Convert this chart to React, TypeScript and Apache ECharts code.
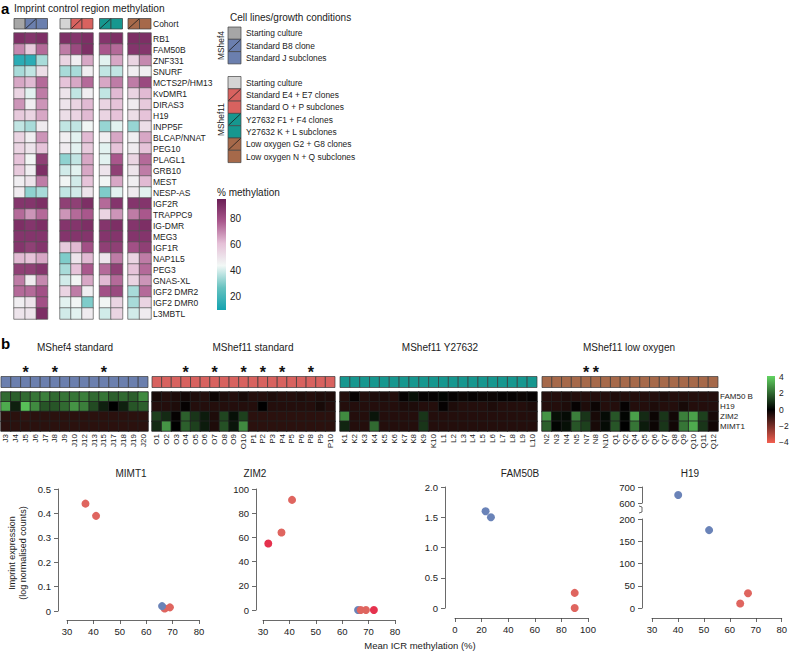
import React, { useEffect, useRef } from 'react';
import * as echarts from 'echarts';

const FONT = '"Liberation Sans", Arial, Helvetica, sans-serif';

// ---------------- Panel a: imprint control region methylation (%) ----------------
const icrRegions = ['RB1', 'FAM50B', 'ZNF331', 'SNURF', 'MCTS2P/HM13', 'KvDMR1', 'DIRAS3', 'H19', 'INPP5F', 'BLCAP/NNAT', 'PEG10', 'PLAGL1', 'GRB10', 'MEST', 'NESP-AS', 'IGF2R', 'TRAPPC9', 'IG-DMR', 'MEG3', 'IGF1R', 'NAP1L5', 'PEG3', 'GNAS-XL', 'IGF2 DMR2', 'IGF2 DMR0', 'L3MBTL'];
const cohortRowLabel = ['Cohort'];
const mshef4Start = [90, 70, 15, 35, 65, 55, 68, 58, 38, 55, 55, 60, 58, 47, 48, 88, 75, 90, 88, 88, 62, 85, 72, 75, 47, 50];
const mshef4B8 = [88, 58, 15, 38, 62, 42, 47, 55, 35, 47, 50, 45, 47, 50, 32, 88, 68, 88, 88, 85, 60, 85, 48, 75, 50, 50];
const mshef4J = [90, 75, 35, 52, 75, 72, 68, 65, 48, 68, 60, 85, 90, 72, 35, 90, 75, 90, 88, 88, 65, 88, 70, 80, 80, 90];
const mshef11Start = [90, 72, 55, 35, 60, 50, 50, 52, 38, 47, 48, 32, 40, 45, 38, 85, 68, 88, 88, 58, 30, 35, 40, 55, 42, 40];
const mshef11E4E7 = [88, 82, 47, 35, 65, 38, 55, 55, 38, 42, 42, 38, 42, 40, 40, 85, 75, 88, 88, 62, 50, 60, 45, 72, 45, 42];
const mshef11OP = [90, 90, 65, 47, 75, 47, 62, 62, 45, 62, 58, 65, 65, 60, 50, 90, 78, 90, 88, 80, 62, 78, 65, 47, 30, 48];
const mshef11F1F4 = [88, 78, 42, 38, 65, 38, 55, 55, 33, 47, 42, 42, 50, 45, 30, 75, 55, 88, 88, 85, 50, 75, 62, 80, 45, 40];
const mshef11KL = [90, 75, 65, 38, 72, 62, 60, 60, 42, 65, 60, 78, 85, 65, 42, 88, 68, 90, 88, 85, 72, 85, 75, 82, 55, 55];
const mshef11G2G8 = [90, 88, 55, 47, 72, 55, 48, 52, 33, 47, 48, 55, 50, 47, 48, 88, 72, 88, 88, 80, 55, 60, 55, 35, 35, 40];
const mshef11NQ = [90, 88, 70, 47, 82, 62, 58, 60, 52, 65, 60, 75, 72, 62, 42, 88, 78, 90, 88, 85, 72, 75, 68, 75, 55, 48];
const methylationTicks = [20, 40, 60, 80];

const mshef4Conditions = ['Starting culture', 'Standard B8 clone', 'Standard J subclones'];
const mshef11Conditions = ['Starting culture', 'Standard E4 + E7 clones', 'Standard O + P subclones', 'Y27632 F1 + F4 clones', 'Y27632 K + L subclones', 'Low oxygen G2 + G8 clones', 'Low oxygen N + Q subclones'];

// ---------------- Panel b: imprint expression heatmap ----------------
const exprGenes = ['FAM50 B', 'H19', 'ZIM2', 'MIMT1'];
const samplesMShef4 = ['J3', 'J4', 'J5', 'J6', 'J7', 'J8', 'J9', 'J10', 'J12', 'J13', 'J15', 'J17', 'J18', 'J19', 'J20'];
const samplesMShef11Std = ['O1', 'O2', 'O3', 'O4', 'O5', 'O6', 'O7', 'O8', 'O9', 'O10', 'P1', 'P2', 'P3', 'P4', 'P5', 'P6', 'P8', 'P9', 'P10'];
const samplesMShef11Y = ['K1', 'K2', 'K3', 'K4', 'K5', 'K6', 'K7', 'K8', 'K9', 'K10', 'L1', 'L2', 'L3', 'L4', 'L5', 'L6', 'L7', 'L8', 'L9', 'L10'];
const samplesMShef11LowO = ['N2', 'N3', 'N4', 'N5', 'N7', 'N8', 'N10', 'Q1', 'Q2', 'Q4', 'Q5', 'Q6', 'Q7', 'Q8', 'Q9', 'Q10', 'Q11', 'Q12'];
const starredSamples = ['J5', 'J8', 'J15', 'O4', 'O7', 'O10', 'P2', 'P4', 'P8', 'N7', 'N8'];
const groupTitles = ['MShef4 standard', 'MShef11 standard', 'MShef11 Y27632', 'MShef11 low oxygen'];

const fam50bMShef4 = [2.0, 1.8, 2.0, 2.2, 2.4, 2.0, 2.2, 2.2, 2.4, 2.0, 2.2, 1.8, 2.0, 1.8, 2.6];
const h19MShef4 = [3.2, 0.6, 3.6, 2.6, 1.6, 1.6, 2.0, 2.8, 2.4, 1.4, 0.6, 0.0, 0.6, 1.6, 1.8];
const zim2MShef4 = [-0.7, -0.7, -0.8, -0.7, -0.7, -0.7, -0.7, -0.7, -0.7, -0.7, -0.7, -0.7, -0.7, -0.7, -0.7];
const mimt1MShef4 = [-0.7, -0.7, -0.7, -0.7, -0.7, -0.7, -0.7, -0.7, -0.7, -0.7, -0.7, -0.7, -0.7, -0.7, -0.7];

const fam50bStd = [-0.4, -0.6, -0.5, -0.3, -0.5, -0.6, -0.2, -0.5, -0.6, -0.4, -0.6, -0.6, -0.5, -0.6, -0.6, -0.5, -0.6, -0.5, -0.5];
const h19Std = [-0.6, -0.6, -0.5, -0.1, -0.6, -0.6, -0.6, -0.6, -0.6, -0.6, -0.6, 0.0, -0.6, -0.6, -0.6, -0.6, -0.6, -0.4, -0.6];
const zim2Std = [1.2, 0.8, -0.1, 1.8, 1.0, 0.5, -0.5, 1.3, 0.3, 1.2, -0.7, -0.7, -0.7, -0.7, -0.7, -0.7, -0.7, -0.7, -0.7];
const mimt1Std = [0.8, 2.8, 0.0, 1.8, 1.2, 0.5, -0.5, 1.5, 0.4, 2.6, -0.7, -0.7, -0.7, -0.7, -0.7, -0.7, -0.7, -0.7, -0.7];

const fam50bY = [-0.6, -0.1, -0.6, -0.5, -0.5, -0.6, -0.1, 0.3, -0.1, -0.1, 0.1, -0.1, -0.2, -0.1, -0.2, -0.2, -0.1, -0.1, -0.2, -0.1];
const h19Y = [-0.6, -0.6, -0.6, -0.6, -0.6, -0.6, -0.5, -0.5, -0.6, -0.6, -0.1, -0.5, -0.6, -0.6, -0.6, -0.5, -0.6, -0.6, -0.6, -0.5];
const zim2Y = [2.6, -0.6, -0.6, 0.4, -0.6, -0.6, -0.6, -0.6, 1.0, -0.6, -0.6, -0.6, -0.6, -0.6, -0.6, -0.6, -0.6, -0.6, -0.6, -0.6];
const mimt1Y = [0.7, -0.6, -0.6, 2.0, -0.6, -0.6, -0.6, -0.6, 1.0, -0.6, -0.6, -0.6, -0.6, -0.6, -0.6, -0.6, -0.6, -0.6, -0.6, -0.6];

const fam50bLowO = [-0.6, -0.6, -0.5, -0.6, -0.6, -0.6, -0.6, -0.5, -0.6, -0.6, -0.6, -0.6, -0.5, -0.6, -0.6, -0.6, -0.6, -0.6];
const h19LowO = [-0.6, -0.6, -0.5, -0.1, -0.5, -0.2, -0.6, -0.6, -0.1, -0.6, -0.6, -0.5, -0.6, -0.6, -0.4, -0.6, -0.6, -0.6];
const zim2LowO = [2.8, 0.3, 0.2, 2.4, 1.0, -0.4, 0.2, 1.6, 0.1, 3.0, 0.8, -0.2, 1.0, -0.3, 2.4, 3.0, 1.2, -0.4];
const mimt1LowO = [1.8, 0.1, 0.3, 1.6, 1.2, -0.4, 0.2, 1.6, 0.0, 2.2, 0.5, -0.2, 1.0, -0.3, 2.2, 3.2, 1.0, -0.3];
const expressionTicks = [4, 2, 0, -2, -4];

// ---------------- Scatter plots: mean ICR methylation (%) vs expression ----------------
const mimt1Blue = [[66, 0.02]];
const mimt1Red = [[37, 0.44], [41, 0.39], [67, 0.01], [69, 0.015]];
const zim2Blue = [[66, 0]];
const zim2Red = [[37, 64], [41, 91], [67, 0], [69, 0]];
const zim2Crimson = [[32, 55], [72, 0]];
const fam50bBlue = [[23, 1.6], [27, 1.5]];
const fam50bRed = [[90, 0.25], [90, 0.0]];
const h19BlueHigh = [[40, 650]];
const h19BlueLow = [[52, 175]];
const h19Red = [[64, 10], [67, 33]];

// ---------------- styles ----------------
const methylColors = ['#13a3b0', '#66c2c0', '#f2f8f6', '#e5c0d7', '#a9578c', '#6a1e55'];
const exprColors = ['#f35f50', '#000000', '#62d462'];
const fill4 = ['#a6a6a6', '#6b7fae', '#6b7fae'];
const fill11 = ['#d4d4d4', '#d8625f', '#d8625f', '#16978f', '#16978f', '#a6694a', '#a6694a'];
const slash4 = [false, true, false];
const slash11 = [false, true, false, true, false, true, false];
const BLUE = '#6a83b8';
const RED = '#df655f';
const CRIMSON = '#e5314d';

function cohortSeries(gi: number, fills: string[], slashes: boolean[], stars?: boolean[]) {
  return {
    type: 'custom',
    xAxisIndex: gi,
    yAxisIndex: gi,
    silent: true,
    data: fills.map((_, i) => [i, 0]),
    renderItem: (params: any, api: any) => {
      const i = params.dataIndex;
      const c = api.coord([api.value(0), api.value(1)]);
      const s = api.size([1, 1]);
      const x0 = c[0] - s[0] / 2;
      const y0 = c[1] - s[1] / 2;
      const children: any[] = [
        { type: 'rect', shape: { x: x0, y: y0, width: s[0], height: s[1] }, style: { fill: fills[i], stroke: '#3a3a3a', lineWidth: 0.7 } },
      ];
      if (slashes[i]) {
        children.push({ type: 'line', shape: { x1: x0 + 0.5, y1: y0 + s[1] - 0.5, x2: x0 + s[0] - 0.5, y2: y0 + 0.5 }, style: { stroke: '#1a1a1a', lineWidth: 0.8 } });
      }
      if (stars && stars[i]) {
        children.push({ type: 'text', style: { text: '*', x: c[0], y: y0 - 4, fontSize: 16, fontWeight: 'bold', fill: '#111', align: 'center', verticalAlign: 'middle', fontFamily: FONT } });
      }
      return { type: 'group', children };
    },
  };
}

function txt(text: string, x: number, y: number, fontSize: number, extra: any = {}, rotation = 0) {
  const { align = 'left', verticalAlign = 'middle', fontWeight = 'normal', fill = '#222' } = extra;
  return {
    type: 'text',
    x,
    y,
    rotation,
    silent: true,
    style: { text, x: 0, y: 0, fontSize, fontFamily: FONT, fill, align, verticalAlign, fontWeight },
  };
}

function buildOption() {
  const grid: any[] = [];
  const xAxis: any[] = [];
  const yAxis: any[] = [];
  const series: any[] = [];
  const graphic: any[] = [];
  const addGrid = (box: any, xa: any, ya: any) => {
    const i = grid.length;
    grid.push({ ...box, containLabel: false });
    xAxis.push({ gridIndex: i, ...xa });
    yAxis.push({ gridIndex: i, ...ya });
    return i;
  };
  const aHeat: number[] = [];
  const bHeat: number[] = [];

  // ---- panel a
  const aGroups = [
    { left: 14, width: 33.5, cols: [mshef4Start, mshef4B8, mshef4J], fills: fill4.slice(0, 3), slashes: slash4.slice(0, 3) },
    { left: 60, width: 33, cols: [mshef11Start, mshef11E4E7, mshef11OP], fills: fill11.slice(0, 3), slashes: slash11.slice(0, 3) },
    { left: 99.5, width: 23, cols: [mshef11F1F4, mshef11KL], fills: fill11.slice(3, 5), slashes: slash11.slice(3, 5) },
    { left: 128, width: 23, cols: [mshef11G2G8, mshef11NQ], fills: fill11.slice(5, 7), slashes: slash11.slice(5, 7) },
  ];
  const rightLabelAxis = (data: string[], fontSize: number, inverse = false) => ({
    type: 'category', data, inverse, position: 'right',
    axisLine: { show: false }, axisTick: { show: false },
    axisLabel: { fontSize, color: '#222', margin: 2, fontFamily: FONT, interval: 0 },
  });
  aGroups.forEach((g, gi) => {
    const last = gi === aGroups.length - 1;
    const cats = g.cols.map((_, i) => String(i));
    const ci = addGrid(
      { left: g.left, top: 18.5, width: g.width, height: 10.5 },
      { type: 'category', data: cats, show: false },
      last ? rightLabelAxis(cohortRowLabel, 8.5) : { type: 'category', data: cohortRowLabel, show: false },
    );
    series.push(cohortSeries(ci, g.fills, g.slashes));
    const hi = addGrid(
      { left: g.left, top: 33, width: g.width, height: 286 },
      { type: 'category', data: cats, show: false },
      last ? rightLabelAxis(icrRegions, 8.5, true) : { type: 'category', data: icrRegions, inverse: true, show: false },
    );
    aHeat.push(series.length);
    series.push({
      type: 'heatmap', xAxisIndex: hi, yAxisIndex: hi, silent: true,
      data: g.cols.flatMap((col, c) => col.map((v, r) => [c, r, v])),
      itemStyle: { borderColor: '#555', borderWidth: 0.7 },
      emphasis: { disabled: true },
    });
  });

  // ---- panel b
  const bGroups = [
    { left: 1, width: 147, samples: samplesMShef4, fill: '#6b7fae', values: [fam50bMShef4, h19MShef4, zim2MShef4, mimt1MShef4], titleX: 75 },
    { left: 152, width: 183, samples: samplesMShef11Std, fill: '#d8625f', values: [fam50bStd, h19Std, zim2Std, mimt1Std], titleX: 253 },
    { left: 340, width: 197, samples: samplesMShef11Y, fill: '#16978f', values: [fam50bY, h19Y, zim2Y, mimt1Y], titleX: 440 },
    { left: 542, width: 176, samples: samplesMShef11LowO, fill: '#a6694a', values: [fam50bLowO, h19LowO, zim2LowO, mimt1LowO], titleX: 629 },
  ];
  bGroups.forEach((g, gi) => {
    const last = gi === bGroups.length - 1;
    const si = addGrid(
      { left: g.left, top: 376.5, width: g.width, height: 11 },
      { type: 'category', data: g.samples, show: false },
      { type: 'category', data: ['cohort'], show: false },
    );
    series.push(cohortSeries(si, g.samples.map(() => g.fill), g.samples.map(() => false), g.samples.map((s) => starredSamples.includes(s))));
    const hi = addGrid(
      { left: g.left, top: 392, width: g.width, height: 39 },
      {
        type: 'category', data: g.samples,
        axisLine: { show: false }, axisTick: { show: false },
        axisLabel: { rotate: 90, fontSize: 8, interval: 0, margin: 3, color: '#222', fontFamily: FONT },
      },
      last ? rightLabelAxis(exprGenes, 8, true) : { type: 'category', data: exprGenes, inverse: true, show: false },
    );
    bHeat.push(series.length);
    series.push({
      type: 'heatmap', xAxisIndex: hi, yAxisIndex: hi, silent: true,
      data: g.values.flatMap((row, r) => row.map((v, c) => [c, r, v])),
      itemStyle: { borderColor: '#222', borderWidth: 0.8 },
      emphasis: { disabled: true },
    });
    graphic.push(txt(groupTitles[gi], g.titleX, 347, 10, { align: 'center' }));
  });

  // ---- scatter plots
  const axisBase: any = {
    type: 'value',
    axisLine: { show: true, onZero: false, lineStyle: { color: '#444', width: 0.8 } },
    axisTick: { show: true, length: 4, lineStyle: { color: '#444', width: 0.8 } },
    splitLine: { show: false },
  };
  const fmt1 = (v: number) => (v === 0 ? '0' : v.toFixed(1));
  const xA = (min: number, max: number, interval: number, offset: number) => ({
    ...axisBase, min, max, interval, offset,
    axisLabel: { fontSize: 9.5, color: '#222', margin: 6, fontFamily: FONT },
  });
  const yA = (min: number, max: number, interval: number, offset: number, formatter?: any) => ({
    ...axisBase, min, max, interval, offset,
    axisLabel: { fontSize: 9.5, color: '#222', margin: 7, fontFamily: FONT, formatter },
  });
  const pts = (gi: number, data: number[][], color: string) => ({
    type: 'scatter', xAxisIndex: gi, yAxisIndex: gi, data, symbolSize: 8, silent: true,
    itemStyle: { color, opacity: 1 },
  });

  const g1 = addGrid({ left: 67, top: 489, width: 132, height: 122 }, xA(30, 80, 10, 9), yA(0, 0.5, 0.1, 9, fmt1));
  series.push(pts(g1, mimt1Red, RED), pts(g1, mimt1Blue, BLUE));
  const g2 = addGrid({ left: 263, top: 489, width: 132, height: 121 }, xA(30, 80, 10, 10), yA(0, 100, 20, 7));
  series.push(pts(g2, zim2Blue, BLUE), pts(g2, zim2Red, RED), pts(g2, zim2Crimson, CRIMSON));
  const g3 = addGrid({ left: 455, top: 487, width: 133, height: 121 }, xA(0, 100, 20, 10), yA(0, 2, 0.5, 10, fmt1));
  series.push(pts(g3, fam50bBlue, BLUE), pts(g3, fam50bRed, RED));
  const g4u = addGrid({ left: 652, top: 487, width: 131, height: 16 }, { type: 'value', min: 30, max: 80, show: false }, yA(600, 700, 100, 10));
  series.push(pts(g4u, h19BlueHigh, BLUE));
  const g4l = addGrid({ left: 652, top: 519, width: 131, height: 89 }, xA(30, 80, 10, 10), yA(0, 200, 50, 10));
  series.push(pts(g4l, h19BlueLow, BLUE), pts(g4l, h19Red, RED));

  // ---- text & legend graphics
  graphic.push(txt('a', 1, 8, 15, { fontWeight: 'bold', fill: '#000' }));
  graphic.push(txt('Imprint control region methylation', 14, 8, 10.2));
  graphic.push(txt('b', 1, 343, 15, { fontWeight: 'bold', fill: '#000' }));
  graphic.push(txt('Cell lines/growth conditions', 230, 17, 10));

  const legendBox = (x: number, y: number, fill: string, slash: boolean) => {
    graphic.push({ type: 'rect', silent: true, shape: { x, y, width: 13, height: 12.3 }, style: { fill, stroke: '#444', lineWidth: 0.7 } });
    if (slash) graphic.push({ type: 'line', silent: true, shape: { x1: x + 0.5, y1: y + 11.8, x2: x + 12.5, y2: y + 0.5 }, style: { stroke: '#1a1a1a', lineWidth: 0.8 } });
  };
  mshef4Conditions.forEach((c, i) => {
    const y = 27 + i * 12.3;
    legendBox(228, y, fill4[i], slash4[i]);
    graphic.push(txt(c, 246, y + 6.3, 8.4));
  });
  mshef11Conditions.forEach((c, i) => {
    const y = 76.5 + i * 12.3;
    legendBox(228, y, fill11[i], slash11[i]);
    graphic.push(txt(c, 246, y + 6.3, 8.4));
  });
  graphic.push(txt('MShef4', 221, 45.5, 8.4, { align: 'center' }, Math.PI / 2));
  graphic.push(txt('MShef11', 221, 119.5, 8.4, { align: 'center' }, Math.PI / 2));

  // methylation colour bar
  const mMin = 10, mMax = 95, barTop = 199, barH = 111;
  graphic.push(txt('% methylation', 217, 192, 10));
  graphic.push({
    type: 'rect', silent: true, shape: { x: 217, y: barTop, width: 9, height: barH },
    style: {
      fill: new echarts.graphic.LinearGradient(0, 0, 0, 1,
        methylColors.slice().reverse().map((color, i) => ({ offset: i / (methylColors.length - 1), color }))),
    },
  });
  methylationTicks.forEach((t) => {
    graphic.push(txt(String(t), 230, barTop + barH - ((t - mMin) / (mMax - mMin)) * barH, 10));
  });

  // expression colour bar
  const eTop = 376, eH = 67, eMin = -4.1, eMax = 4.1;
  graphic.push({
    type: 'rect', silent: true, shape: { x: 767, y: eTop, width: 8, height: eH },
    style: {
      fill: new echarts.graphic.LinearGradient(0, 0, 0, 1,
        exprColors.slice().reverse().map((color, i) => ({ offset: i / (exprColors.length - 1), color }))),
    },
  });
  expressionTicks.forEach((t) => {
    graphic.push(txt(t < 0 ? '\u2212' + Math.abs(t) : String(t), 779, eTop + eH - ((t - eMin) / (eMax - eMin)) * eH, 8.5));
  });

  // scatter titles & axis names
  graphic.push(txt('MIMT1', 131, 473, 10, { align: 'center' }));
  graphic.push(txt('ZIM2', 255, 473, 10, { align: 'center' }));
  graphic.push(txt('FAM50B', 520, 473, 10, { align: 'center' }));
  graphic.push(txt('H19', 690, 473, 10, { align: 'center' }));
  graphic.push(txt('Imprint expression', 12, 553, 9, { align: 'center' }, Math.PI / 2));
  graphic.push(txt('(log normalised counts)', 23, 553, 9, { align: 'center' }, Math.PI / 2));
  graphic.push(txt('Mean ICR methylation (%)', 420, 645, 9.5, { align: 'center' }));
  // axis break mark on H19
  graphic.push({ type: 'polyline', silent: true, shape: { points: [[639, 506], [642, 507], [642, 512], [639, 513]] }, style: { stroke: '#444', lineWidth: 0.8, fill: 'none' } });

  return {
    animation: false,
    backgroundColor: '#ffffff',
    textStyle: { fontFamily: FONT },
    grid,
    xAxis,
    yAxis,
    visualMap: [
      { type: 'continuous', show: false, min: mMin, max: mMax, dimension: 2, seriesIndex: aHeat, inRange: { color: methylColors } },
      { type: 'continuous', show: false, min: -4, max: 4, dimension: 2, seriesIndex: bHeat, inRange: { color: exprColors } },
    ],
    series,
    graphic,
  };
}

export default function App() {
  const ref = useRef<HTMLDivElement>(null);
  useEffect(() => {
    document.body.style.margin = '0';
    const chart = echarts.init(ref.current as HTMLDivElement, null, { renderer: 'svg', width: 790, height: 652 });
    chart.setOption(buildOption() as any);
    return () => chart.dispose();
  }, []);
  return <div ref={ref} style={{ width: 790, height: 652 }} />;
}
